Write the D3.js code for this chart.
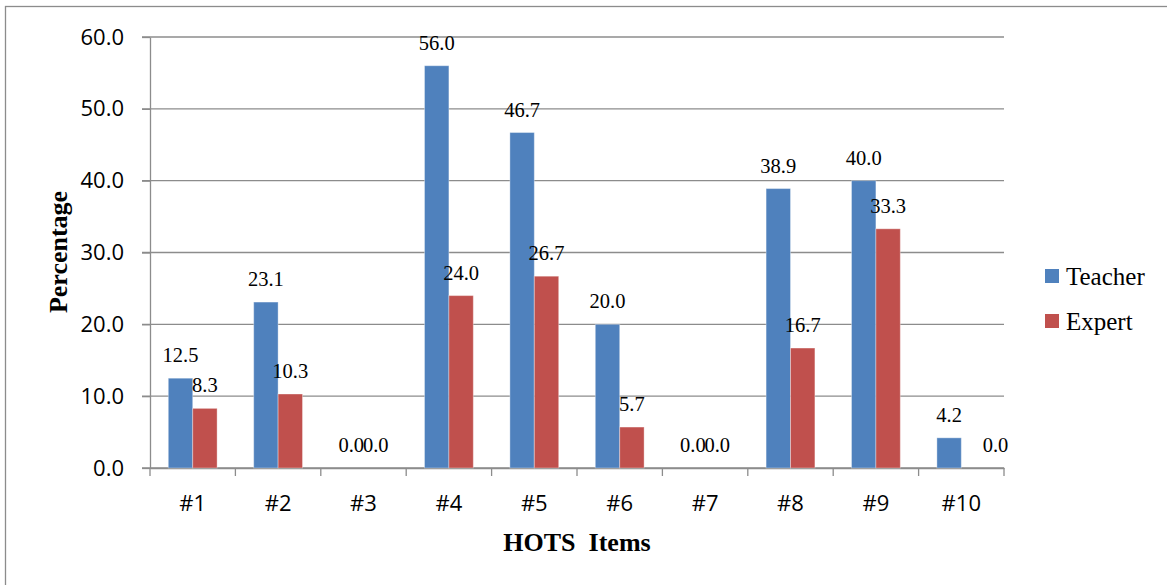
<!DOCTYPE html>
<html>
<head>
<meta charset="utf-8">
<script src="https://cdn.jsdelivr.net/npm/d3@7"></script>
<style>
  html, body { margin: 0; padding: 0; background: #fff; }
  svg { display: block; }
</style>
</head>
<body>
<div id="chart"></div>
<script>
const categories = ["#1", "#2", "#3", "#4", "#5", "#6", "#7", "#8", "#9", "#10"];
const seriesNames = ["Teacher", "Expert"];
const teacherValues = [12.5, 23.1, 0.0, 56.0, 46.7, 20.0, 0.0, 38.9, 40.0, 4.2];
const expertValues = [8.3, 10.3, 0.0, 24.0, 26.7, 5.7, 0.0, 16.7, 33.3, 0.0];
const yTicks = [0, 10, 20, 30, 40, 50, 60];

const width = 1167;
const height = 585;
const plot = { left: 150, right: 1004, top: 37, bottom: 468 };
const colors = { Teacher: "#4f81bd", Expert: "#c0504d" };
const gridColor = "#8c8c8c";
const axisFont = "Open Sans, Noto Sans, sans-serif";
const serifFont = "Liberation Serif, Times New Roman, serif";

const svg = d3.select("#chart")
  .append("svg")
  .attr("width", width)
  .attr("height", height);

// outer chart frame (runs off the right/bottom edge in the source)
svg.append("rect")
  .attr("x", 5.5).attr("y", 6.5)
  .attr("width", 1180).attr("height", 600)
  .attr("fill", "none")
  .attr("stroke", gridColor)
  .attr("stroke-width", 1.3);

const x = d3.scaleBand()
  .domain(categories)
  .range([plot.left, plot.right])
  .padding(0);

// gap width 150% -> outer padding 0.75 of a bar
const xSeries = d3.scaleBand()
  .domain(seriesNames)
  .range([0, x.bandwidth()])
  .paddingInner(0)
  .paddingOuter(0.75);

const y = d3.scaleLinear()
  .domain([0, 60])
  .range([plot.bottom, plot.top]);

// gridlines
svg.append("g")
  .selectAll("line")
  .data(yTicks)
  .join("line")
  .attr("x1", plot.left - 8)
  .attr("x2", plot.right)
  .attr("y1", d => y(d))
  .attr("y2", d => y(d))
  .attr("stroke", gridColor)
  .attr("stroke-width", 1.3);

// y axis
const yAxis = svg.append("g")
  .attr("transform", `translate(${plot.left},0)`)
  .call(d3.axisLeft(y).tickValues(yTicks).tickFormat(d3.format(".1f")).tickSize(8).tickSizeOuter(0).tickPadding(18));
yAxis.select(".domain").attr("stroke", gridColor).attr("stroke-width", 1.3);
yAxis.selectAll(".tick line").attr("stroke", gridColor).attr("stroke-width", 1.3);
yAxis.selectAll("text")
  .attr("font-family", axisFont)
  .attr("font-size", 22)
  .attr("fill", "#000");

// x axis: labels at band centres, ticks at band edges
const xAxis = svg.append("g")
  .attr("transform", `translate(0,${plot.bottom})`)
  .call(d3.axisBottom(x).tickSize(0).tickSizeOuter(0).tickPadding(27));
xAxis.select(".domain").attr("stroke", gridColor).attr("stroke-width", 1.3);
xAxis.selectAll("text")
  .attr("font-family", axisFont)
  .attr("font-size", 22)
  .attr("fill", "#000");

const edges = categories.map(c => x(c)).concat([plot.right]);
svg.append("g")
  .selectAll("line")
  .data(edges)
  .join("line")
  .attr("x1", d => d).attr("x2", d => d)
  .attr("y1", plot.bottom).attr("y2", plot.bottom + 8)
  .attr("stroke", gridColor)
  .attr("stroke-width", 1.3);

// bars
const rows = categories.map((c, i) => ({
  category: c,
  values: [
    { series: "Teacher", value: teacherValues[i] },
    { series: "Expert", value: expertValues[i] }
  ]
}));

const groups = svg.append("g")
  .selectAll("g")
  .data(rows)
  .join("g")
  .attr("transform", d => `translate(${x(d.category)},0)`);

groups.selectAll("rect")
  .data(d => d.values)
  .join("rect")
  .attr("x", d => xSeries(d.series))
  .attr("width", xSeries.bandwidth())
  .attr("y", d => y(d.value))
  .attr("height", d => y(0) - y(d.value))
  .attr("fill", d => colors[d.series])
  .attr("stroke", "#fff")
  .attr("stroke-opacity", 0.35)
  .attr("stroke-width", 1);

// data labels
groups.selectAll("text")
  .data(d => d.values.map(v => ({ ...v, category: d.category })))
  .join("text")
  .attr("x", d => {
    let cx = xSeries(d.series) + xSeries.bandwidth() / 2;
    // the last zero label sits off to the right of its slot
    if (d.category === "#10" && d.series === "Expert") cx += 22;
    return cx;
  })
  .attr("y", d => y(d.value) - 16)
  .attr("text-anchor", "middle")
  .attr("font-family", serifFont)
  .attr("font-size", 20.5)
  .attr("fill", "#000")
  .text(d => d3.format(".1f")(d.value));

// axis titles
svg.append("text")
  .attr("x", (plot.left + plot.right) / 2)
  .attr("y", 551)
  .attr("text-anchor", "middle")
  .attr("font-family", serifFont)
  .attr("font-weight", "bold")
  .attr("font-size", 26)
  .style("white-space", "pre")
  .text("HOTS  Items");

svg.append("text")
  .attr("transform", "translate(67,252) rotate(-90)")
  .attr("text-anchor", "middle")
  .attr("font-family", serifFont)
  .attr("font-weight", "bold")
  .attr("font-size", 26)
  .text("Percentage");

// legend
const legend = svg.append("g")
  .selectAll("g")
  .data(seriesNames)
  .join("g")
  .attr("transform", (d, i) => `translate(1045,${276 + i * 45})`);

legend.append("rect")
  .attr("x", 0).attr("y", -7)
  .attr("width", 14).attr("height", 14)
  .attr("fill", d => colors[d]);

legend.append("text")
  .attr("x", 21)
  .attr("y", 0)
  .attr("dy", "0.35em")
  .attr("font-family", serifFont)
  .attr("font-size", 25)
  .attr("fill", "#000")
  .text(d => d);
</script>
</body>
</html>
